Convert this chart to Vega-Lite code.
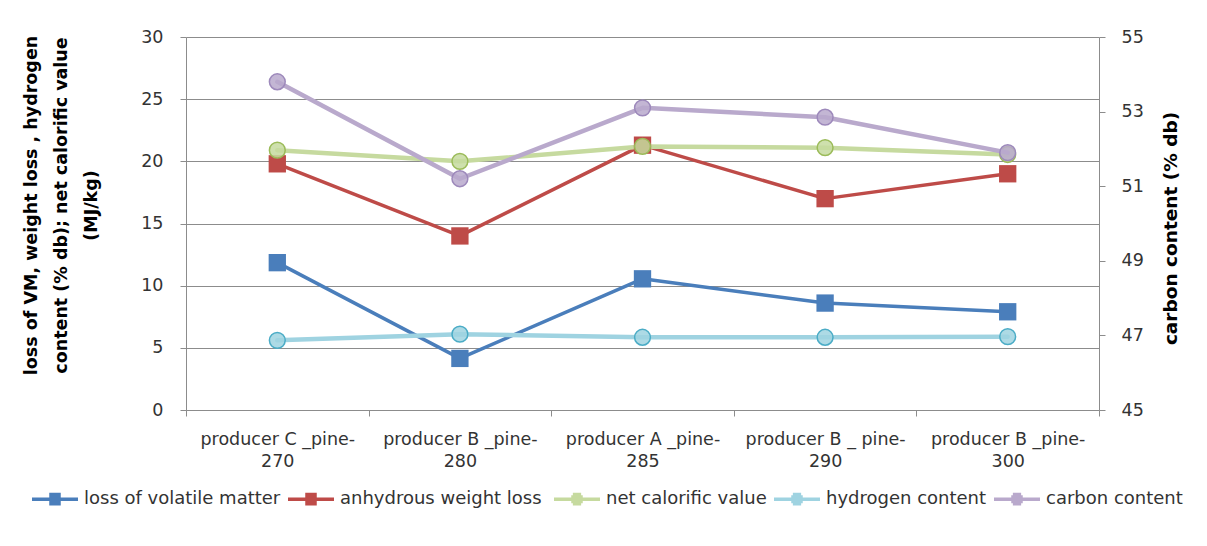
{
  "$schema": "https://vega.github.io/schema/vega-lite/v6.json",
  "width": 913,
  "height": 373,
  "autosize": {"type": "none"},
  "padding": {"left": 186, "top": 37, "right": 108, "bottom": 136},
  "background": "white",
  "config": {
    "view": {"stroke": null},
    "font": "DejaVu Sans"
  },
  "data": {
    "values": [
      {"category": "producer C _pine-270", "series": "loss of volatile matter", "value": 11.85},
      {"category": "producer B _pine-280", "series": "loss of volatile matter", "value": 4.15},
      {"category": "producer A _pine-285", "series": "loss of volatile matter", "value": 10.55},
      {"category": "producer B _ pine-290", "series": "loss of volatile matter", "value": 8.6},
      {"category": "producer B _pine-300", "series": "loss of volatile matter", "value": 7.9},
      {"category": "producer C _pine-270", "series": "anhydrous weight loss", "value": 19.8},
      {"category": "producer B _pine-280", "series": "anhydrous weight loss", "value": 14.0},
      {"category": "producer A _pine-285", "series": "anhydrous weight loss", "value": 21.3},
      {"category": "producer B _ pine-290", "series": "anhydrous weight loss", "value": 17.0},
      {"category": "producer B _pine-300", "series": "anhydrous weight loss", "value": 19.0},
      {"category": "producer C _pine-270", "series": "net calorific value", "value": 20.9},
      {"category": "producer B _pine-280", "series": "net calorific value", "value": 20.0},
      {"category": "producer A _pine-285", "series": "net calorific value", "value": 21.2},
      {"category": "producer B _ pine-290", "series": "net calorific value", "value": 21.1},
      {"category": "producer B _pine-300", "series": "net calorific value", "value": 20.55},
      {"category": "producer C _pine-270", "series": "hydrogen content", "value": 5.6},
      {"category": "producer B _pine-280", "series": "hydrogen content", "value": 6.1},
      {"category": "producer A _pine-285", "series": "hydrogen content", "value": 5.85},
      {"category": "producer B _ pine-290", "series": "hydrogen content", "value": 5.85},
      {"category": "producer B _pine-300", "series": "hydrogen content", "value": 5.9},
      {"category": "producer C _pine-270", "series": "carbon content", "value": 53.8},
      {"category": "producer B _pine-280", "series": "carbon content", "value": 51.2},
      {"category": "producer A _pine-285", "series": "carbon content", "value": 53.1},
      {"category": "producer B _ pine-290", "series": "carbon content", "value": 52.85},
      {"category": "producer B _pine-300", "series": "carbon content", "value": 51.9}
    ]
  },
  "encoding": {
    "x": {
      "field": "category",
      "type": "nominal",
      "sort": null,
      "scale": {"paddingInner": 0, "paddingOuter": 0},
      "axis": {
        "title": null,
        "labelAngle": 0,
        "grid": false,
        "tickBand": "extent",
        "tickSize": 6,
        "tickColor": "#8c8c8c",
        "domainColor": "#8c8c8c",
        "labelPadding": 14,
        "labelBaseline": "top",
        "labelFont": "DejaVu Sans",
        "labelFontSize": 17.5,
        "labelColor": "#333333",
        "labelLineHeight": 22,
        "labelOverlap": false,
        "labelBound": false,
        "labelLimit": 0,
        "labelExpr": "[slice(datum.label, 0, indexof(datum.label, '-') + 1), slice(datum.label, indexof(datum.label, '-') + 1)]"
      }
    }
  },
  "layer": [
    {
      "transform": [{"filter": "datum.series !== 'carbon content'"}],
      "encoding": {
        "y": {
          "field": "value",
          "type": "quantitative",
          "scale": {"domain": [0, 30], "nice": false, "zero": false},
          "axis": {
            "values": [0, 5, 10, 15, 20, 25, 30],
            "grid": true,
            "gridColor": "#8c8c8c",
            "domainColor": "#8c8c8c",
            "tickColor": "#8c8c8c",
            "tickSize": 6,
            "labelPadding": 17,
            "labelFont": "DejaVu Sans",
            "labelFontSize": 17.5,
            "labelColor": "#333333",
            "title": ["loss of VM, weight loss , hydrogen", "content (% db); net calorific value", "(MJ/kg)"],
            "titleFont": "DejaVu Sans",
            "titleFontWeight": "bold",
            "titleFontSize": 17.5,
            "titleColor": "#000000",
            "titleAngle": 270,
            "titleAlign": "center",
            "titleBaseline": "top",
            "titleLineHeight": 30,
            "titleX": -164,
            "titleY": 168
          }
        }
      },
      "layer": [
        {
          "transform": [{"filter": "datum.series === 'loss of volatile matter' || datum.series === 'anhydrous weight loss'"}],
          "mark": {"type": "line", "strokeWidth": 3.5, "strokeCap": "round", "strokeJoin": "round"},
          "encoding": {
            "color": {
              "field": "series",
              "type": "nominal",
              "scale": {
                "domain": ["loss of volatile matter", "anhydrous weight loss", "net calorific value", "hydrogen content", "carbon content"],
                "range": ["#4a7ebb", "#be4b48", "#9bbb59", "#4bacc6", "#9d89bb"]
              },
              "legend": {
                "title": null,
                "values": ["loss of volatile matter", "anhydrous weight loss"],
                "orient": "none",
                "legendX": -156,
                "legendY": 437,
                "direction": "horizontal",
                "columns": 2,
                "columnPadding": 0,
                "labelOffset": 4,
                "labelFont": "DejaVu Sans",
                "labelFontSize": 18,
                "labelColor": "#333333",
                "labelLimit": 300,
                "symbolType": "M-1,0H1M-0.25,-0.2H0.25M-0.25,-0.1H0.25M-0.25,0.1H0.25M-0.25,0.2H0.25",
                "symbolSize": 2116,
                "symbolStrokeWidth": 3.5,
                "symbolFillColor": "transparent"
              }
            }
          }
        },
        {
          "transform": [{"filter": "datum.series === 'net calorific value' || datum.series === 'hydrogen content'"}],
          "mark": {"type": "line", "strokeWidth": 4.5, "strokeCap": "round", "strokeJoin": "round"},
          "encoding": {
            "stroke": {
              "field": "series",
              "type": "nominal",
              "scale": {
                "domain": ["net calorific value", "hydrogen content", "carbon content"],
                "range": ["#c6da9f", "#9fd3e1", "#b9a9cc"]
              },
              "legend": {
                "title": null,
                "orient": "none",
                "legendX": 366,
                "legendY": 437,
                "direction": "horizontal",
                "columns": 3,
                "columnPadding": 0,
                "labelOffset": 4,
                "labelFont": "DejaVu Sans",
                "labelFontSize": 18,
                "labelColor": "#333333",
                "labelLimit": 300,
                "symbolType": "M-1,0H1M-0.25,-0.1H0.25M-0.25,0.1H0.25M-0.18,-0.2H0.18M-0.18,0.2H0.18",
                "symbolSize": 2116,
                "symbolStrokeWidth": 3.5,
                "symbolFillColor": "transparent"
              }
            }
          }
        },
        {
          "transform": [{"filter": "datum.series === 'loss of volatile matter' || datum.series === 'anhydrous weight loss'"}],
          "mark": {"type": "point", "shape": "square", "filled": true, "size": 300, "opacity": 1},
          "encoding": {
            "fill": {
              "field": "series",
              "type": "nominal",
              "legend": null,
              "scale": {
                "domain": ["loss of volatile matter", "anhydrous weight loss", "net calorific value", "hydrogen content", "carbon content"],
                "range": ["#4a7ebb", "#be4b48", "#c6da9f", "#9fd3e1", "#b9a9cc"]
              }
            }
          }
        },
        {
          "transform": [{"filter": "datum.series === 'net calorific value' || datum.series === 'hydrogen content'"}],
          "mark": {"type": "point", "filled": false, "size": 250, "strokeWidth": 1.5, "fillOpacity": 0.85, "opacity": 1},
          "encoding": {
            "color": {"field": "series", "type": "nominal"},
            "fill": {"field": "series", "type": "nominal", "legend": null}
          }
        }
      ]
    },
    {
      "transform": [{"filter": "datum.series === 'carbon content'"}],
      "encoding": {
        "y": {
          "field": "value",
          "type": "quantitative",
          "scale": {"domain": [45, 55], "nice": false, "zero": false},
          "axis": {
            "orient": "right",
            "values": [45, 47, 49, 51, 53, 55],
            "grid": false,
            "domainColor": "#8c8c8c",
            "tickColor": "#8c8c8c",
            "tickSize": 6,
            "labelPadding": 16,
            "labelFont": "DejaVu Sans",
            "labelFontSize": 17.5,
            "labelColor": "#333333",
            "title": "carbon content (% db)",
            "titleFont": "DejaVu Sans",
            "titleFontWeight": "bold",
            "titleFontSize": 18.5,
            "titleColor": "#000000",
            "titleAngle": 270,
            "titleAlign": "center",
            "titleBaseline": "middle",
            "titleX": 71,
            "titleY": 191
          }
        }
      },
      "layer": [
        {
          "mark": {"type": "line", "strokeWidth": 4.5, "strokeCap": "round", "strokeJoin": "round"},
          "encoding": {
            "stroke": {"field": "series", "type": "nominal"}
          }
        },
        {
          "mark": {"type": "point", "filled": false, "size": 250, "strokeWidth": 1.5, "fillOpacity": 0.85, "opacity": 1},
          "encoding": {
            "color": {"field": "series", "type": "nominal"},
            "fill": {"field": "series", "type": "nominal", "legend": null}
          }
        }
      ]
    }
  ],
  "resolve": {"scale": {"y": "independent"}}
}
